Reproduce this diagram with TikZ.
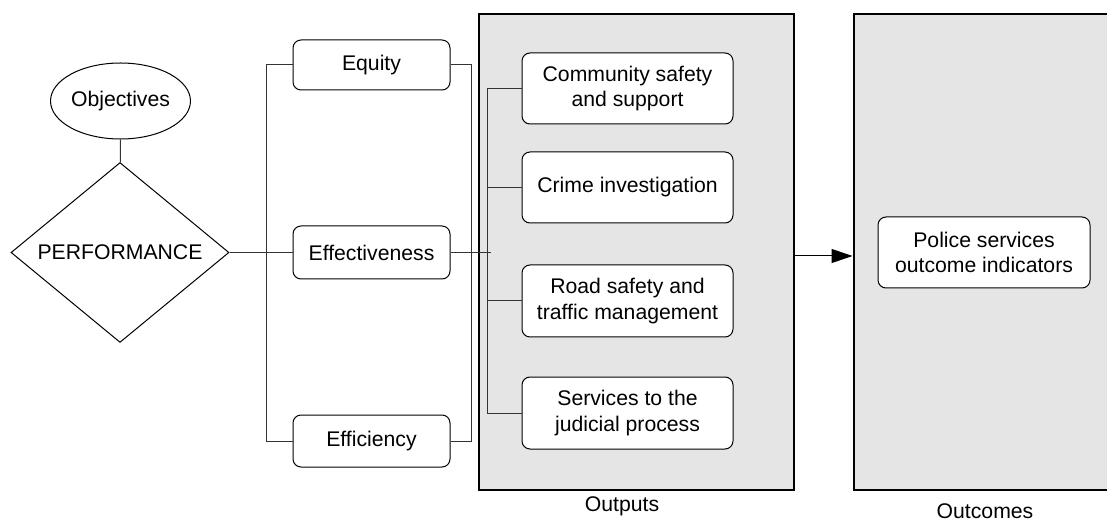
\documentclass[tikz,border=0pt]{standalone}
\usepackage{fontspec}
\setmainfont{Liberation Sans}
\usetikzlibrary{shapes.geometric, arrows.meta}

\begin{document}
\begin{tikzpicture}[x=0.5pt, y=-0.5pt,
    every node/.style={font=\fontsize{10.6}{12.6}\selectfont, align=center},
    roundbox/.style={draw, line width=0.5pt, rounded corners=4pt, fill=white, inner sep=0pt},
    areabox/.style={draw, line width=1pt, fill=black!10, inner sep=0pt, minimum height=238pt},
    link/.style={draw=black!80, line width=0.5pt}]
    \useasboundingbox (0,0) rectangle (1107,523);

    % Shaded areas
    \node[areabox, minimum width=157.5pt] (outputs) at (636.5,252) {};
    \node[areabox, minimum width=131pt] (outcomes) at (984.5,252) {};
    \node (outlbl) at (622,506) {Outputs};
    \node (outclbl) at (985,511) {Outcomes};

    % Objectives and performance
    \node[draw, ellipse, line width=0.5pt, minimum width=62pt, minimum height=38pt, inner sep=0pt] (obj) at (120.5,101) {Objectives};
    \node[draw, diamond, line width=0.5pt, minimum width=109pt, minimum height=54.5pt, inner sep=0pt] (perf) at (120,252.5) {PERFORMANCE};
    \draw[link] (obj) -- (perf);

    % Three criteria
    \node[roundbox, minimum width=78.5pt, minimum height=25pt] (equity) at (371.5,65) {Equity};
    \node[roundbox, minimum width=78.5pt, minimum height=26.5pt] (effect) at (371.5,252.5) {Effectiveness};
    \node[roundbox, minimum width=78.5pt, minimum height=26pt] (effic) at (371.5,441) {Efficiency};
    \draw[link] (perf.east) -- (effect.west);
    \draw[link] (equity.west) -- ++(-26,0) |- (effic.west);
    \draw[link] (equity.east) -- ++(21,0) |- (effic.east);
    \draw[link] (effect.east) -- ++(40,0) coordinate (effend);

    % Outputs
    \node[roundbox, minimum width=105.5pt, minimum height=35.5pt] (comm) at (627.5,88.5) {Community safety\\and support};
    \node[roundbox, minimum width=105.5pt, minimum height=35.5pt] (crime) at (627.5,187.5) {Crime investigation};
    \node[roundbox, minimum width=105.5pt, minimum height=36pt] (road) at (627.5,301) {Road safety and\\traffic management};
    \node[roundbox, minimum width=105.5pt, minimum height=36pt] (judic) at (627.5,413) {Services to the\\judicial process};
    \draw[link] (comm.west) -- ++(-34,0) |- (judic.west);
    \draw[link] (crime.west) -- ++(-34,0);
    \draw[link] (road.west) -- ++(-34,0);

    % Outcomes
    \node[roundbox, minimum width=106pt, minimum height=35.5pt] (police) at (984,252.5) {Police services\\outcome indicators};
    \draw[-{Triangle[length=10.5pt, width=7pt]}, line width=0.5pt] (outputs.east |- 0,256) -- (outcomes.west |- 0,256);
\end{tikzpicture}
\end{document}
